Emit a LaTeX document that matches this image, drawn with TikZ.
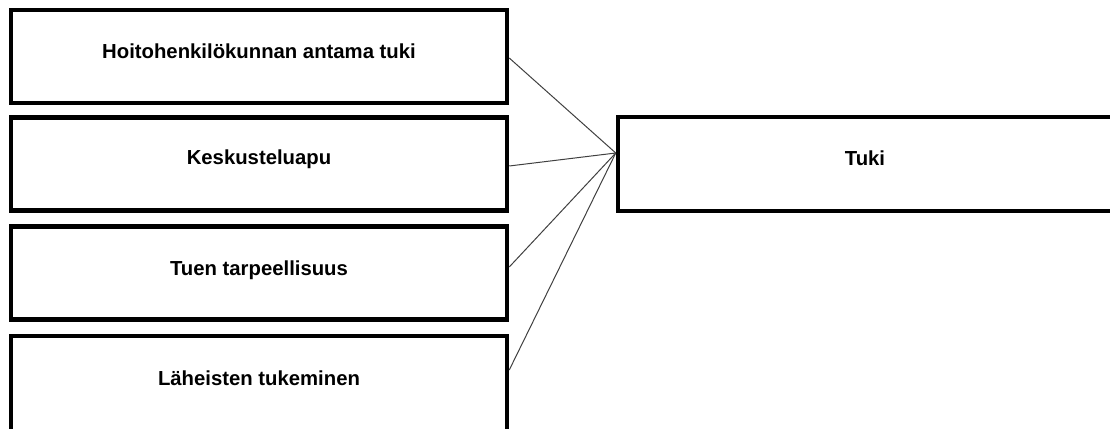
\documentclass[tikz,border=0pt]{standalone}
\usepackage{fontspec}
\setmainfont{Liberation Sans}
\begin{document}
\begin{tikzpicture}[x=1pt,y=-1pt,
  box/.style={draw=black, line width=4.5pt, fill=white, minimum width=496pt, minimum height=93pt, inner sep=0pt},
  lbl/.style={anchor=base, inner sep=0pt, font=\fontsize{20.3}{24}\selectfont\bfseries},
  link/.style={draw=black!75, line width=1pt}]
\useasboundingbox (0,0) rectangle (1110,428);
\clip (0,0) rectangle (1110,428);
\node[box] (b1) at (259,56.5) {};
\node[box] (b2) at (259,164) {};
\node[box] (b3) at (259,273) {};
\node[box, minimum height=95pt] (b4) at (259,383.5) {};
\node[box, minimum height=94pt, minimum width=504pt] (r) at (870,164) {};
\node[lbl] (t1) at ([yshift=-2pt]b1.center) {Hoitohenkilökunnan antama tuki};
\node[lbl] (t2) at ([yshift=-0.5pt]b2.center) {Keskusteluapu};
\node[lbl] (t3) at ([yshift=-2pt]b3.center) {Tuen tarpeellisuus};
\node[lbl] (t4) at ([yshift=-1.5pt]b4.center) {Läheisten tukeminen};
\node[lbl] (tr) at ([xshift=-5pt,yshift=-1pt]r.center) {Tuki};
\coordinate (c) at ([yshift=11pt]r.west);
\draw[link] ([yshift=-1.5pt]b1.east) -- (c);
\draw[link] ([yshift=-2pt]b2.east) -- (c);
\draw[link] ([yshift=6pt]b3.east) -- (c);
\draw[link] ([yshift=13.5pt]b4.east) -- (c);
\end{tikzpicture}
\end{document}
